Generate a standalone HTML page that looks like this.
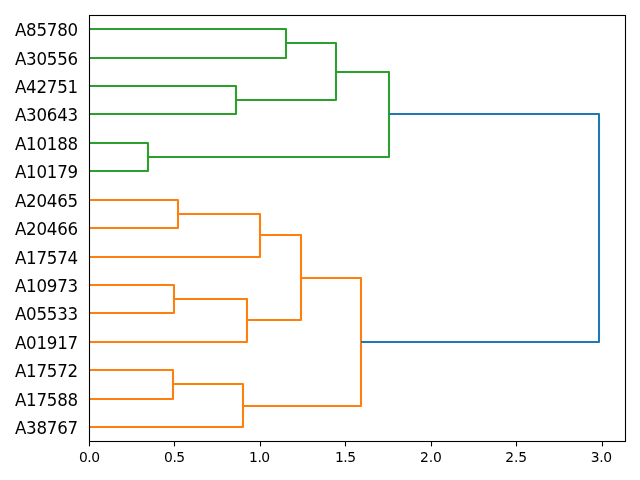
<!DOCTYPE html>
<html lang="en">
<head>
<meta charset="utf-8">
<title>Dendrogram</title>
<style>
html,body{margin:0;padding:0;background:#fff;}
body{width:640px;height:480px;overflow:hidden;}
svg{display:block;}
text{font-family:"DejaVu Sans","Liberation Sans",sans-serif;fill:#000;}
.yl{font-size:16.67px;text-anchor:end;letter-spacing:-0.22px;}
.xl{font-size:13.89px;text-anchor:middle;letter-spacing:-0.45px;}
.lk{fill:none;stroke-width:2.08;stroke-linejoin:round;stroke-linecap:butt;}
</style>
</head>
<body>
<svg width="640" height="480" viewBox="0 0 640 480">
<rect x="0" y="0" width="640" height="480" fill="#ffffff"/>
<path class="lk" stroke="#2ca02c" d="M89 29H286V58H89"/>
<path class="lk" stroke="#2ca02c" d="M89 86H236V114H89"/>
<path class="lk" stroke="#2ca02c" d="M286 43H336V100H236"/>
<path class="lk" stroke="#2ca02c" d="M89 143H148V171H89"/>
<path class="lk" stroke="#2ca02c" d="M336 72H389V157H148"/>
<path class="lk" stroke="#ff7f0e" d="M89 200H178V228H89"/>
<path class="lk" stroke="#ff7f0e" d="M178 214H260V257H89"/>
<path class="lk" stroke="#ff7f0e" d="M89 285H174V313H89"/>
<path class="lk" stroke="#ff7f0e" d="M174 299H247V342H89"/>
<path class="lk" stroke="#ff7f0e" d="M260 235H301V320H247"/>
<path class="lk" stroke="#ff7f0e" d="M89 370H173V399H89"/>
<path class="lk" stroke="#ff7f0e" d="M173 384H243V427H89"/>
<path class="lk" stroke="#ff7f0e" d="M301 278H361V406H243"/>
<path class="lk" stroke="#1f77b4" d="M389 114H599V342H361"/>
<rect x="89.5" y="15.5" width="536" height="426" fill="none" stroke="#000" stroke-width="1.1"/>
<line x1="89.5" y1="441.5" x2="89.5" y2="446.4" stroke="#000" stroke-width="1.1"/>
<line x1="174.5" y1="441.5" x2="174.5" y2="446.4" stroke="#000" stroke-width="1.1"/>
<line x1="260.5" y1="441.5" x2="260.5" y2="446.4" stroke="#000" stroke-width="1.1"/>
<line x1="345.5" y1="441.5" x2="345.5" y2="446.4" stroke="#000" stroke-width="1.1"/>
<line x1="431.5" y1="441.5" x2="431.5" y2="446.4" stroke="#000" stroke-width="1.1"/>
<line x1="516.5" y1="441.5" x2="516.5" y2="446.4" stroke="#000" stroke-width="1.1"/>
<line x1="602.5" y1="441.5" x2="602.5" y2="446.4" stroke="#000" stroke-width="1.1"/>
<text class="xl" style="letter-spacing:-0.45px" transform="translate(89.30 462.2) scale(1 1.03)">0.0</text>
<text class="xl" style="letter-spacing:-0.45px" transform="translate(174.40 462.2) scale(1 1.03)">0.5</text>
<text class="xl" style="letter-spacing:-0.45px" transform="translate(259.40 462.2) scale(1 1.03)">1.0</text>
<text class="xl" style="letter-spacing:-0.45px" transform="translate(345.35 462.2) scale(1 1.03)">1.5</text>
<text class="xl" style="letter-spacing:-0.05px" transform="translate(430.90 462.2) scale(1 1.03)">2.0</text>
<text class="xl" style="letter-spacing:-0.05px" transform="translate(516.20 462.2) scale(1 1.03)">2.5</text>
<text class="xl" style="letter-spacing:-0.45px" transform="translate(601.20 462.2) scale(1 1.03)">3.0</text>
<text class="yl" transform="translate(78 35.8) scale(1 1.07)">A85780</text>
<text class="yl" transform="translate(78 64.8) scale(1 1.07)">A30556</text>
<text class="yl" transform="translate(78 92.8) scale(1 1.07)">A42751</text>
<text class="yl" transform="translate(78 120.8) scale(1 1.07)">A30643</text>
<text class="yl" transform="translate(78 149.8) scale(1 1.07)">A10188</text>
<text class="yl" transform="translate(78 177.8) scale(1 1.07)">A10179</text>
<text class="yl" transform="translate(78 206.8) scale(1 1.07)">A20465</text>
<text class="yl" transform="translate(78 234.8) scale(1 1.07)">A20466</text>
<text class="yl" transform="translate(78 263.8) scale(1 1.07)">A17574</text>
<text class="yl" transform="translate(78 291.8) scale(1 1.07)">A10973</text>
<text class="yl" transform="translate(78 319.8) scale(1 1.07)">A05533</text>
<text class="yl" transform="translate(78 348.8) scale(1 1.07)">A01917</text>
<text class="yl" transform="translate(78 376.8) scale(1 1.07)">A17572</text>
<text class="yl" transform="translate(78 405.8) scale(1 1.07)">A17588</text>
<text class="yl" transform="translate(78 433.8) scale(1 1.07)">A38767</text>
</svg>
</body>
</html>
